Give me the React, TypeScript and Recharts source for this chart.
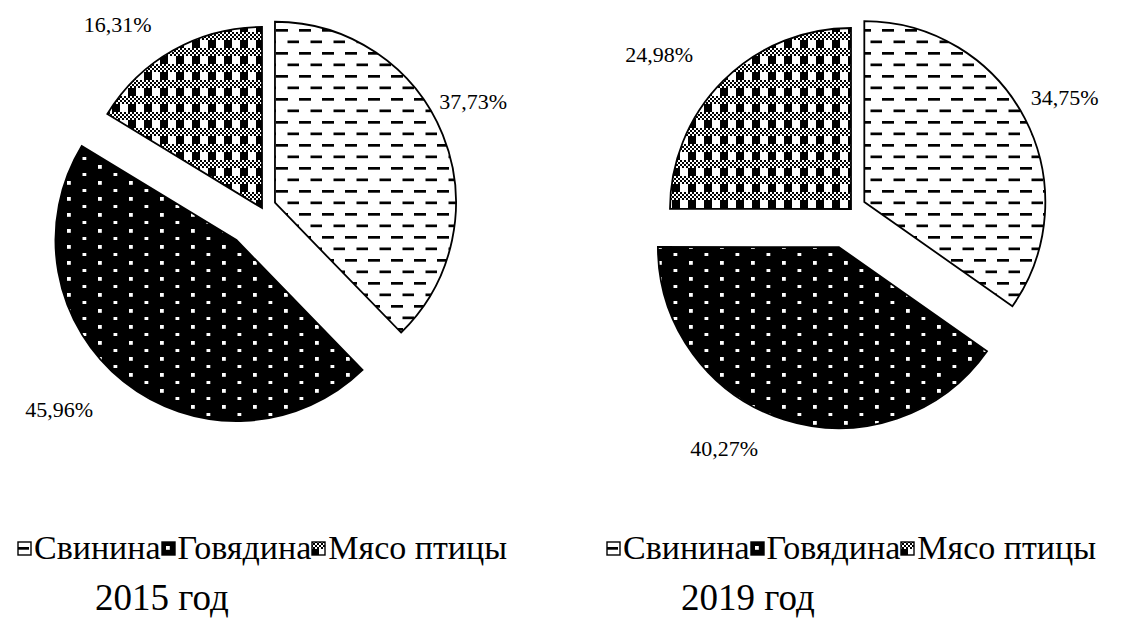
import React from "react";
import { PieChart, Pie, Cell, Legend } from "recharts";

const categories = ["Свинина", "Говядина", "Мясо птицы"];
const values2015 = [37.73, 45.96, 16.31];
const values2019 = [34.75, 40.27, 24.98];
const yearLabels = ["2015 год", "2019 год"];

const patternIds = ["pat-pork", "pat-beef", "pat-poultry"];
const FONT = "Liberation Serif, DejaVu Serif, Times New Roman, Tinos, serif";
const RADIUS = 181;

// per-chart layout: pie center, how far each slice is pulled out, label nudges
const charts = [
  {
    values: values2015, year: yearLabels[0], cx: 262, cy: 208, explode: [14, 41, 0], left: 0, yearX: 95,
    nudge: [[-22, -14], [-18, 0], [-12, 4]],
  },
  {
    values: values2019, year: yearLabels[1], cx: 291, cy: 209, explode: [15, 40, 0], left: 560, yearX: 121,
    nudge: [[-12, 0], [-20, -2], [-16, 0]],
  },
];

const fmt = (v: number) => v.toFixed(2).replace(".", ",") + "%";

function Patterns() {
  const checker: React.ReactNode[] = [];
  for (let r = 0; r < 4; r++) {
    for (let c = 0; c < 8; c++) {
      if ((r + c) % 2 === 0) checker.push(<rect key={`${r}-${c}`} x={c * 2} y={r * 2} width={2} height={2} fill="#000" />);
    }
  }
  return (
    <svg width={0} height={0} style={{ position: "absolute" }}>
      <defs>
        <pattern id="pat-pork" patternUnits="userSpaceOnUse" width={23} height={23}>
          <rect width={23} height={23} fill="#fff" />
          <rect x={0} y={6} width={12} height={2.7} fill="#000" />
          <rect x={11.5} y={17.5} width={12} height={2.7} fill="#000" />
        </pattern>
        <pattern id="pat-beef" patternUnits="userSpaceOnUse" width={31} height={16}>
          <rect width={31} height={16} fill="#000" />
          <rect x={5} y={5} width={3.8} height={3.8} fill="#fff" />
          <rect x={20.5} y={13} width={3.8} height={3.8} fill="#fff" />
        </pattern>
        <pattern id="pat-poultry" patternUnits="userSpaceOnUse" width={16} height={16}>
          <rect width={16} height={16} fill="#fff" />
          {checker}
          <rect x={0} y={8} width={8} height={8} fill="#000" />
        </pattern>
      </defs>
    </svg>
  );
}

function LegendContent() {
  return (
    <div style={{ display: "flex", justifyContent: "center", alignItems: "center", fontFamily: FONT, fontSize: 34, color: "#000", whiteSpace: "nowrap" }}>
      {categories.map((c, i) => (
        <span key={c} style={{ display: "inline-flex", alignItems: "center" }}>
          <svg width={15} height={15} style={{ marginRight: 2 }}>
            <rect x={1} y={1} width={13} height={13} fill={`url(#${patternIds[i]})`} stroke="#000" strokeWidth={1.4} />
          </svg>
          {c}
        </span>
      ))}
    </div>
  );
}

function OneChart({ chart }: { chart: (typeof charts)[number] }) {
  const data = categories.map((name, i) => ({ name, value: chart.values[i] }));
  const total = chart.values.reduce((a, b) => a + b, 0);
  let acc = 0;
  const mids = chart.values.map((v) => {
    const m = ((acc + v / 2) / total) * 360;
    acc += v;
    return m;
  });

  const renderLabel = (slice: number) => (props: any) => {
    if (props.index !== slice) return null;
    const rad = Math.PI / 180;
    const r = props.outerRadius + 20;
    const dx = Math.cos(-props.midAngle * rad);
    const dy = Math.sin(-props.midAngle * rad);
    const x = props.cx + r * dx + chart.nudge[slice][0];
    const y = props.cy + r * dy + (dy >= 0 ? 12 : -12) + chart.nudge[slice][1];
    return (
      <text key={`lbl-${slice}`} x={x} y={y} textAnchor={dx >= 0 ? "start" : "end"} dominantBaseline="central" fontFamily={FONT} fontSize={22} fill="#000">
        {fmt(props.value)}
      </text>
    );
  };

  return (
    <div style={{ position: "absolute", left: chart.left, top: 0, width: 560, height: 628 }}>
      <PieChart width={560} height={628} margin={{ top: 0, right: 0, bottom: 0, left: 0 }}>
        {data.map((_, i) => {
          const a = (mids[i] * Math.PI) / 180;
          return (
            <Pie
              key={i}
              data={data}
              dataKey="value"
              nameKey="name"
              cx={chart.cx + chart.explode[i] * Math.sin(a)}
              cy={chart.cy - chart.explode[i] * Math.cos(a)}
              outerRadius={RADIUS}
              startAngle={90}
              endAngle={-270}
              isAnimationActive={false}
              labelLine={false}
              label={renderLabel(i)}
            >
              {data.map((d, j) => (
                <Cell
                  key={d.name}
                  fill={j === i ? `url(#${patternIds[j]})` : "none"}
                  stroke={j === i ? "#000" : "none"}
                  strokeWidth={1.8}
                />
              ))}
            </Pie>
          );
        })}
        <Legend
          verticalAlign="bottom"
          content={() => <LegendContent />}
          wrapperStyle={{ top: 529, bottom: "auto", left: chart.cx - 280, width: 560 }}
        />
      </PieChart>
      <div style={{ position: "absolute", left: chart.yearX, top: 576, fontFamily: FONT, fontSize: 37, color: "#000", whiteSpace: "nowrap" }}>
        {chart.year}
      </div>
    </div>
  );
}

export default function App() {
  return (
    <div style={{ position: "absolute", left: 0, top: 0, width: 1121, height: 628, background: "#fff", overflow: "hidden" }}>
      <Patterns />
      {charts.map((c) => (
        <OneChart key={c.year} chart={c} />
      ))}
    </div>
  );
}
